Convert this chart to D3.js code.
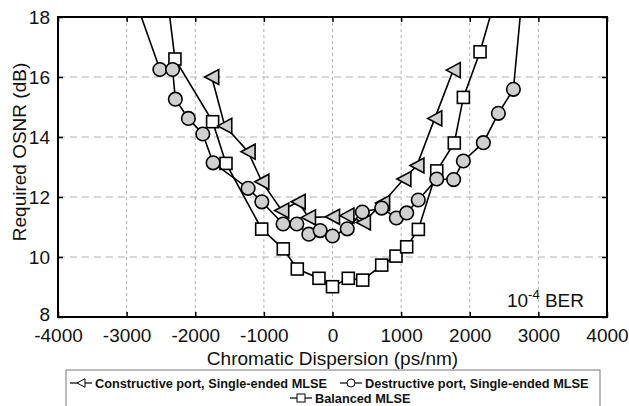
<!DOCTYPE html>
<html>
<head>
<meta charset="utf-8">
<script src="https://d3js.org/d3.v7.min.js"></script>
<style>
body { margin: 0; background: #fff; }
text { font-family: "Liberation Sans", Arial, sans-serif; fill: #111; }
.leg text { font-weight: bold; }
</style>
</head>
<body>
<div id="chart"></div>
<script>
var xTicks = [-4000, -3000, -2000, -1000, 0, 1000, 2000, 3000, 4000];
var yTicks = [8, 10, 12, 14, 16, 18];
var seriesNames = ["Constructive port, Single-ended MLSE", "Destructive port, Single-ended MLSE", "Balanced MLSE"];

// constructive port (triangles)
var conCD   = [-1760, -1570, -1230, -1030, -740, -500, -350, 0, 210, 450, 730, 1040, 1230, 1490, 1760];
var conOSNR = [16.0, 14.37, 13.51, 12.51, 11.55, 11.84, 11.32, 11.34, 11.38, 11.15, 11.8, 12.6, 13.05, 14.62, 16.23];

// destructive port (circles)
var desCD   = [-2940, -2515, -2330, -2290, -2100, -1890, -1740, -1230, -1030, -720, -520, -345, -180, 0, 215, 435, 717, 930, 1081, 1250, 1519, 1765, 1907, 2198, 2417, 2636, 2775];
var desOSNR = [19.0, 16.25, 16.25, 15.26, 14.62, 14.1, 13.14, 12.29, 11.84, 11.1, 11.1, 10.76, 10.88, 10.7, 10.94, 11.5, 11.63, 11.3, 11.47, 11.9, 12.6, 12.58, 13.2, 13.81, 14.79, 15.59, 19.0];

// balanced (squares)
var balCD   = [-2425, -2296, -1747, -1552, -1032, -717, -513, -197, 0, 230, 440, 717, 925, 1081, 1251, 1519, 1775, 1907, 2150, 2421];
var balOSNR = [19.0, 16.6, 14.51, 13.12, 10.93, 10.27, 9.6, 9.29, 9.01, 9.29, 9.23, 9.73, 10.03, 10.34, 10.92, 12.87, 13.8, 15.32, 16.84, 19.0];

var W = 629, H = 406;
var margin = {top: 17, left: 58, right: 22, bottom: 89};
var width = W - margin.left - margin.right,
    height = H - margin.top - margin.bottom;

var svg = d3.select("#chart").append("svg")
    .attr("width", W).attr("height", H);

var g = svg.append("g").attr("transform", "translate(" + margin.left + "," + margin.top + ")");

var x = d3.scaleLinear().domain([-4000, 4000]).range([0, width]);
var y = d3.scaleLinear().domain([8, 18]).range([height, 0]);

// grid
g.append("g").selectAll("line")
    .data(yTicks.slice(1, -1))
    .join("line")
    .attr("x1", 0).attr("x2", width)
    .attr("y1", d => y(d)).attr("y2", d => y(d))
    .style("stroke", "#b0b0b0").style("stroke-dasharray", "7,5");
g.append("g").selectAll("line")
    .data(xTicks.slice(1, -1))
    .join("line")
    .attr("y1", 0).attr("y2", height)
    .attr("x1", d => x(d)).attr("x2", d => x(d))
    .style("stroke", "#b0b0b0").style("stroke-dasharray", "3,3");

// axes (ticks inside)
var fmt = d => String(d);
var ax = g.append("g").attr("class", "axes");
ax.append("g").attr("transform", "translate(0," + height + ")")
    .call(d3.axisBottom(x).tickValues(xTicks).tickFormat(fmt).tickSizeInner(-5).tickSizeOuter(0).tickPadding(12));
ax.append("g")
    .call(d3.axisTop(x).tickValues(xTicks).tickSizeInner(-5).tickSizeOuter(0).tickFormat(""));
var yAx = ax.append("g")
    .call(d3.axisLeft(y).tickValues(yTicks).tickFormat(fmt).tickSizeInner(-5).tickSizeOuter(0).tickPadding(8));
ax.append("g").attr("transform", "translate(" + width + ",0)")
    .call(d3.axisRight(y).tickValues(yTicks).tickSizeInner(-5).tickSizeOuter(0).tickFormat(""));
ax.selectAll(".domain").remove();
ax.selectAll("line").style("stroke", "#000").style("stroke-width", 1.5);
ax.selectAll("text").style("font-size", "19px").style("fill", "#111")
    .style("font-family", "'Liberation Sans', Arial, sans-serif");
yAx.selectAll("text").filter(d => d === 8).attr("y", -3);

g.append("rect").attr("width", width).attr("height", height)
    .style("fill", "none").style("stroke", "#000").style("stroke-width", 2);

// titles
svg.append("text")
    .attr("x", margin.left + width / 2).attr("y", 365)
    .attr("text-anchor", "middle").style("font-size", "19px")
    .text("Chromatic Dispersion (ps/nm)");
svg.append("text")
    .attr("transform", "translate(26,152) rotate(-90)")
    .attr("text-anchor", "middle").style("font-size", "19px")
    .text("Required OSNR (dB)");

var ber = svg.append("text")
    .attr("x", 584).attr("y", 307)
    .attr("text-anchor", "end").style("font-size", "19px");
ber.append("tspan").text("10");
ber.append("tspan").attr("dy", -8).style("font-size", "13px").text("-4");
ber.append("tspan").attr("dy", 8).text(" BER");

// series
svg.append("defs").append("clipPath").attr("id", "clip")
    .append("rect").attr("width", width).attr("height", height);

var line = d3.line().x(d => x(d[0])).y(d => y(d[1]));

function marker(sel, type, s) {
  if (type === "tri") {
    sel.append("path").attr("d", "M" + (-s) + ",0L" + s + "," + (-s * 1.07) + "L" + s + "," + (s * 1.07) + "Z")
      .style("fill", "#d0d0d0");
  } else if (type === "circ") {
    sel.append("circle").attr("r", s).style("fill", "#d0d0d0");
  } else {
    sel.append("rect").attr("x", -s).attr("y", -s).attr("width", 2 * s).attr("height", 2 * s)
      .style("fill", "#fff");
  }
  sel.selectAll("*").style("stroke", "#000").style("stroke-width", 1.6);
}

var series = [
  {name: seriesNames[2], type: "sq",   size: 6,   pts: d3.zip(balCD, balOSNR)},
  {name: seriesNames[0], type: "tri",  size: 7,   pts: d3.zip(conCD, conOSNR)},
  {name: seriesNames[1], type: "circ", size: 6.8, pts: d3.zip(desCD, desOSNR)}
];

var plot = g.append("g").attr("clip-path", "url(#clip)");
series.forEach(function(s) {
  var sg = plot.append("g");
  sg.append("path").datum(s.pts).attr("d", line)
    .style("fill", "none").style("stroke", "#000").style("stroke-width", 1.6);
  sg.selectAll("g.m").data(s.pts.filter(p => p[1] <= 18)).join("g").attr("class", "m")
    .attr("transform", d => "translate(" + x(d[0]) + "," + y(d[1]) + ")")
    .each(function() { marker(d3.select(this), s.type, s.size); });
});

// legend
var leg = svg.append("g").attr("class", "leg");
leg.append("rect").attr("x", 66).attr("y", 370).attr("width", 534).attr("height", 45)
  .style("fill", "#fff").style("stroke", "#777").style("stroke-width", 1);

var legItems = [
  {type: "tri",  x: 70,  y: 383, label: seriesNames[0]},
  {type: "circ", x: 340, y: 383, label: seriesNames[1]},
  {type: "sq",   x: 290, y: 398, label: seriesNames[2]}
];
var squeeze = null;
legItems.forEach(function(it) {
  var lg = leg.append("g").attr("transform", "translate(" + it.x + "," + it.y + ")");
  lg.append("line").attr("x1", 0).attr("x2", 22).style("stroke", "#000").style("stroke-width", 1.2);
  var mg = lg.append("g").attr("transform", "translate(11,0)");
  marker(mg, it.type, 4);
  mg.selectAll("*").style("stroke-width", 1).style("fill", "#fff");
  var t = lg.append("text").attr("x", 25).attr("y", 4.5).style("font-size", "13.5px").text(it.label);
  var natural = t.node().getComputedTextLength();
  if (squeeze === null) squeeze = 232 / natural;   // condensed face in the original
  t.attr("textLength", natural * squeeze).attr("lengthAdjust", "spacingAndGlyphs");
});
</script>
</body>
</html>
